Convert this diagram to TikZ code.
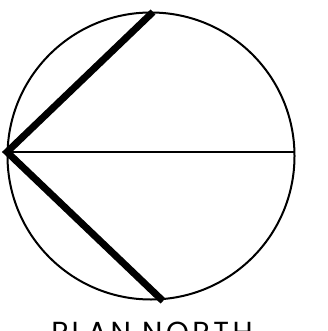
\documentclass[tikz,border=0pt]{standalone}
\usepackage{fontspec}
\setmainfont{Poppins}
\newfontfamily\espacada[LetterSpace=12]{Poppins}
\usepackage{tikz}
\usetikzlibrary{calc}
\tikzset{
    contorno/.style={draw, line width=2pt},
    eixo/.style={line width=2pt},
    braco/.style={line width=7pt, line cap=butt, line join=miter},
    titulo/.style={font=\espacada\fontsize{29}{29}\selectfont, anchor=north, inner sep=0pt}
}

\begin{document}
\begin{tikzpicture}[x=1pt, y=-1pt]
        \useasboundingbox (0,0) rectangle (327,331);
        \node[contorno, circle, minimum size=287pt, inner sep=0pt] (planta) at (151,156) {};
        \coordinate (oeste) at (7,152);
        \coordinate (leste) at (294,152);
        \coordinate (topo) at (153,12);
        \coordinate (base) at (163,301);
        \node[titulo] (rotulo) at (152,322) {PLAN NORTH};

        \draw[eixo] (oeste) -- (leste);
        \draw[braco] (topo) -- (oeste) -- (base);
    \end{tikzpicture}
\end{document}
